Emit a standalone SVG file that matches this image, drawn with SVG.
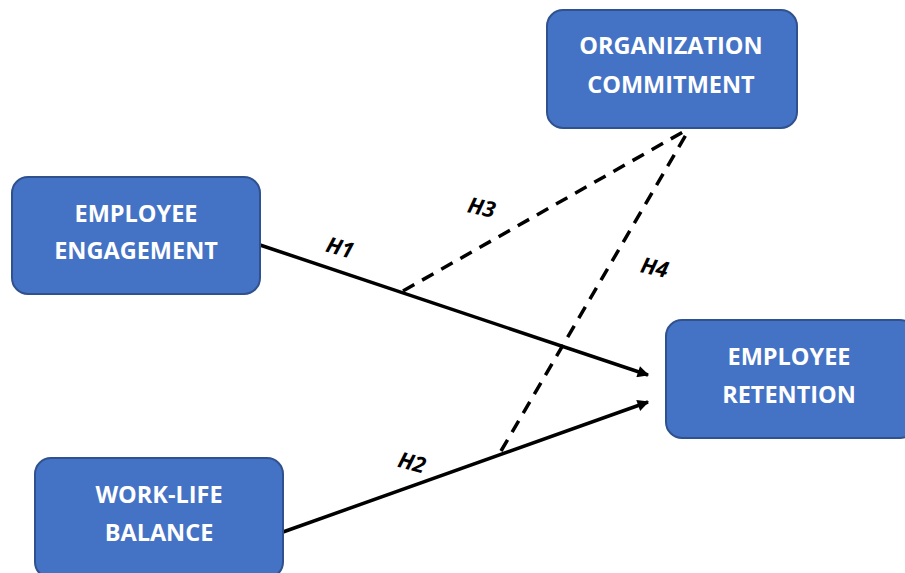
<svg xmlns="http://www.w3.org/2000/svg" width="905" height="573" viewBox="0 0 905 573">
  <style>
    .box { fill: #4472C4; stroke: #2F528F; stroke-width: 2; }
    .lbl { fill: #FFFFFF; font-family: "Open Sans", "Liberation Sans", sans-serif; font-weight: 700; font-size: 23.5px; text-anchor: middle; }
    .link { stroke: #000000; stroke-width: 3.5; fill: none; }
    .dash { stroke: #000000; stroke-width: 3.5; fill: none; stroke-dasharray: 13 9; }
    .hyp { fill: #000000; font-family: "Open Sans", "Liberation Sans", sans-serif; font-weight: 700; font-style: italic; font-size: 22px; text-anchor: middle; }
  </style>
  <defs>
    <marker id="arrow" viewBox="0 0 10 10" refX="9" refY="5" markerWidth="4.4" markerHeight="3.3" markerUnits="strokeWidth" orient="auto">
      <path d="M0,0 L10,5 L0,10 z" fill="#000000"/>
    </marker>
  </defs>

  <rect width="905" height="573" fill="#FFFFFF"/>

  <!-- connectors -->
  <g id="connectors">
    <line class="link" x1="260" y1="245" x2="648" y2="375" marker-end="url(#arrow)"/>
    <line class="link" x1="283" y1="532" x2="648" y2="402" marker-end="url(#arrow)"/>
    <line class="dash" x1="403" y1="291" x2="690" y2="128"/>
    <line class="dash" x1="501" y1="451" x2="690" y2="128"/>
    <text class="hyp" transform="translate(338,255) rotate(16)">H1</text>
    <text class="hyp" transform="translate(480,215) rotate(13)">H3</text>
    <text class="hyp" transform="translate(653,275) rotate(13)">H4</text>
    <text class="hyp" transform="translate(410,470) rotate(15)">H2</text>
  </g>

  <!-- nodes -->
  <g id="organization-commitment">
    <rect class="box" x="547" y="10" width="250" height="118" rx="16"/>
    <text class="lbl" x="671" y="54">ORGANIZATION</text>
    <text class="lbl" x="671" y="93">COMMITMENT</text>
  </g>

  <g id="employee-engagement">
    <rect class="box" x="12" y="177" width="248" height="117" rx="16"/>
    <text class="lbl" x="136" y="222">EMPLOYEE</text>
    <text class="lbl" x="136" y="259">ENGAGEMENT</text>
  </g>

  <g id="employee-retention">
    <rect class="box" x="666" y="320" width="250" height="118" rx="16"/>
    <text class="lbl" x="789" y="365">EMPLOYEE</text>
    <text class="lbl" x="789" y="403">RETENTION</text>
  </g>

  <g id="work-life-balance">
    <rect class="box" x="35" y="458" width="248" height="120" rx="16"/>
    <text class="lbl" x="159" y="503">WORK-LIFE</text>
    <text class="lbl" x="159" y="541">BALANCE</text>
  </g>
</svg>
